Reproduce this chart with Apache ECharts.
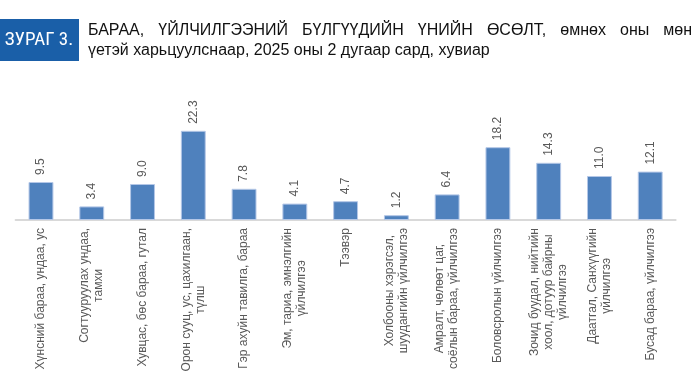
<!DOCTYPE html>
<html><head><meta charset="utf-8">
<script src="https://cdn.jsdelivr.net/npm/echarts@6/dist/echarts.min.js"></script>
<style>html,body{margin:0;padding:0;background:#fff}#c{width:698px;height:380px}</style>
</head><body><div id="c"></div>
<script>
var categories = [
  "Хүнсний бараа, ундаа, ус",
  "Согтууруулах ундаа,\nтамхи",
  "Хувцас, бөс бараа, гутал",
  "Орон сууц, ус, цахилгаан,\nтүлш",
  "Гэр ахуйн тавилга, бараа",
  "Эм, тариа, эмнэлгийн\nүйлчилгээ",
  "Тээвэр",
  "Холбооны хэрэгсэл,\nшуудангийн үйлчилгээ",
  "Амралт, чөлөөт цаг,\nсоёлын бараа, үйлчилгээ",
  "Боловсролын үйлчилгээ",
  "Зочид буудал, нийтийн\nхоол, дотуур байрны\nүйлчилгээ",
  "Даатгал, Санхүүгийн\nүйлчилгээ",
  "Бусад бараа, үйлчилгээ"
];
var values = [9.5, 3.4, 9.0, 22.3, 7.8, 4.1, 4.7, 1.2, 6.4, 18.2, 14.3, 11.0, 12.1];
var titleLine1 = "БАРАА, ҮЙЛЧИЛГЭЭНИЙ БҮЛГҮҮДИЙН ҮНИЙН ӨСӨЛТ, өмнөх оны мөн";
var titleLine2 = "үетэй харьцуулснаар, 2025 оны 2 дугаар сард, хувиар";
var figLabel = "ЗУРАГ 3.";

var sans = "'Liberation Sans', Arial, sans-serif";
var titleFont = '16px ' + sans;

// justified first title line: measure words and spread them between two edges
var ctx = document.createElement('canvas').getContext('2d');
ctx.font = titleFont;
var words = titleLine1.split(' ');
var x0 = 88, x1 = 692;
var widths = words.map(function (w) { return ctx.measureText(w).width; });
var total = widths.reduce(function (a, b) { return a + b; }, 0);
var gap = (x1 - x0 - total) / (words.length - 1);
var graphics = [
  {type: 'rect', x: 0, y: 19, shape: {width: 79, height: 42}, style: {fill: '#1a5fa8'}},
  {type: 'text', x: 39, y: 40, style: {text: figLabel, fill: '#fff', font: "19px 'Roboto Condensed', 'Liberation Sans', sans-serif", align: 'center', verticalAlign: 'middle'}},
  {type: 'text', x: x0, y: 51, style: {text: titleLine2, fill: '#111', font: titleFont, verticalAlign: 'middle'}}
];
var cx = x0;
words.forEach(function (w, i) {
  graphics.push({type: 'text', x: cx, y: 31, style: {text: w, fill: '#111', font: titleFont, verticalAlign: 'middle'}});
  cx += widths[i] + gap;
});

var chart = echarts.init(document.getElementById('c'), null, {renderer: 'canvas'});
chart.setOption({
  animation: false,
  graphic: graphics,
  grid: {left: 15.6, width: 660, top: 120, bottom: 160, containLabel: false},
  xAxis: {
    type: 'category',
    data: categories,
    axisLine: {lineStyle: {color: '#d9d9d9', width: 2}},
    axisTick: {show: false},
    axisLabel: {
      interval: 0, rotate: 90, margin: 8, color: '#595959',
      fontFamily: sans, fontSize: 12, lineHeight: 14,
      formatter: function (v) { return v.split('\n').map(function (s) { return '{c|' + s + '}'; }).join('\n'); },
      rich: {c: {align: 'center', color: '#595959', fontSize: 12, lineHeight: 14, fontFamily: sans}}
    }
  },
  yAxis: {type: 'value', min: 0, max: 25, show: false, splitLine: {show: false}},
  series: [{
    type: 'bar',
    data: values,
    barWidth: '49%',
    itemStyle: {color: '#4f81bd', borderColor: '#b4c7e7', borderWidth: 1},
    label: {
      show: true, position: 'top', rotate: 90, align: 'left', verticalAlign: 'middle', distance: 7,
      color: '#595959', fontSize: 12, fontFamily: sans,
      formatter: function (p) { return p.value.toFixed(1); }
    }
  }]
});
</script></body></html>
